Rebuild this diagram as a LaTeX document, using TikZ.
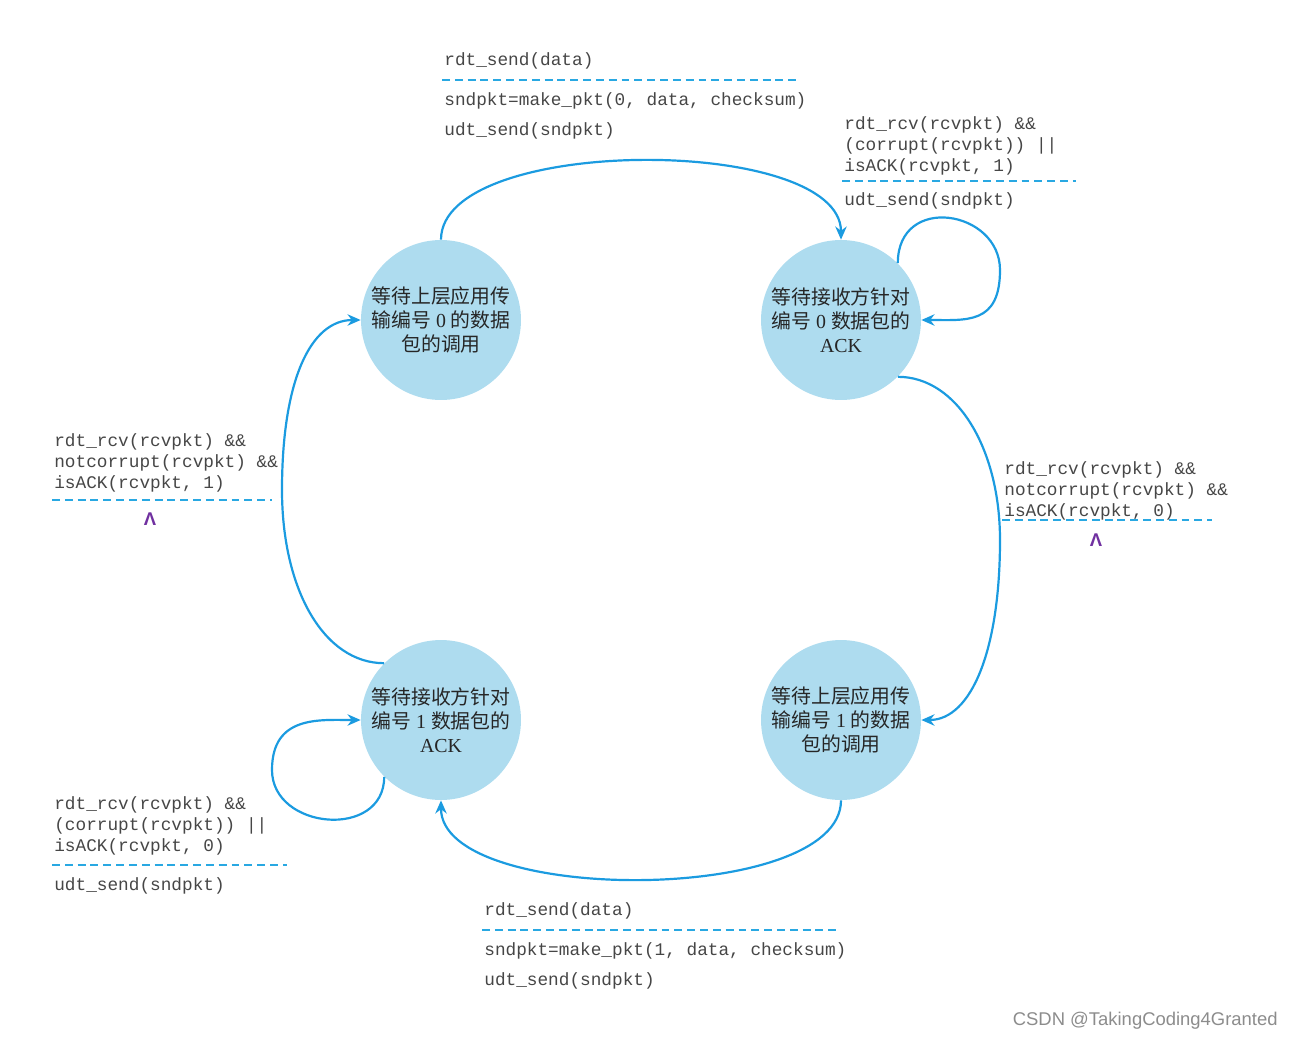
\documentclass[tikz,border=0pt]{standalone}
\usepackage{fontspec}
\setmainfont{Liberation Serif}
\setmonofont{Liberation Mono}
\newfontfamily\cjk{Noto Sans CJK SC}
\newfontfamily\wmfont{Liberation Sans}
\usetikzlibrary{arrows.meta}
\definecolor{statefill}{RGB}{174,220,239}
\definecolor{edgeblue}{RGB}{27,155,224}
\definecolor{dashblue}{RGB}{41,168,226}
\definecolor{lambdapurple}{RGB}{112,48,160}
\definecolor{codegray}{RGB}{70,70,70}
\tikzset{
  state/.style={circle, fill=statefill, minimum size=3.2cm, inner sep=0pt, align=center,
    font=\fontsize{11.3}{13.6}\selectfont, text=black!85},
  trans/.style={draw=edgeblue, line width=1.25pt, -{Stealth[length=7.5pt,width=6.5pt]}},
  sepline/.style={draw=dashblue, line width=1.1pt, dash pattern=on 4.5pt off 2.8pt},
  code/.style={font=\ttfamily\fontsize{10.1}{12}\selectfont, text=codegray, inner sep=0pt, anchor=base west},
  lam/.style={font=\wmfont\bfseries\fontsize{10.5}{12}\selectfont, text=lambdapurple, inner sep=0pt},
}
\begin{document}
\begin{tikzpicture}[x=0.02cm, y=-0.02cm]
\useasboundingbox (0,0) rectangle (1292,1041);

% states
\node[state] (wait0) at (441,320) {{\cjk 等待上层应用传}\\{\cjk 输编号} 0 {\cjk 的数据}\\{\cjk 包的调用}};
\node[state] (ack0) at (841,320) {{\cjk 等待接收方针对}\\{\cjk 编号} 0 {\cjk 数据包的}\\ACK};
\node[state] (ack1) at (441,720) {{\cjk 等待接收方针对}\\{\cjk 编号} 1 {\cjk 数据包的}\\ACK};
\node[state] (wait1) at (841,720) {{\cjk 等待上层应用传}\\{\cjk 输编号} 1 {\cjk 的数据}\\{\cjk 包的调用}};

% bends of the loops and side arcs
\coordinate (loop0) at (1000,270);
\coordinate (side0) at (1000,540);
\coordinate (loop1) at (272,770);
\coordinate (side1) at (282,490);

% transitions
\draw[trans] (wait0.north) .. controls +(0,-105) and +(0,-105) .. (ack0.north);
\draw[trans] (ack0.45) .. controls +(0,-70) and +(0,-60) .. (loop0) .. controls +(0,55) and +(45,0) .. (ack0.east);
\draw[trans] (ack0.-45) .. controls +(60,0) and +(0,-90) .. (side0) .. controls +(0,110) and +(50,0) .. (wait1.east);
\draw[trans] (wait1.south) .. controls +(0,105) and +(0,105) .. (ack1.south);
\draw[trans] (ack1.225) .. controls +(0,63) and +(0,60) .. (loop1) .. controls +(0,-55) and +(-41,0) .. (ack1.west);
\draw[trans] (ack1.135) .. controls +(-60,0) and +(0,100) .. (side1) .. controls +(0,-110) and +(-50,0) .. (wait0.west);

% wait0 -> ack0
\node[code] (snd0ev) at (444,65) {rdt\_send(data)};
\draw[sepline] (442,80) -- (797,80);
\node[code] (snd0a) at (444,105) {sndpkt=make\_pkt(0, data, checksum)};
\node[code] (snd0b) at (444,135) {udt\_send(sndpkt)};

% ack0 self loop
\node[code] (re0a) at (844,129) {rdt\_rcv(rcvpkt) \&\&};
\node[code] (re0b) at (844,150) {(corrupt(rcvpkt)) ||};
\node[code] (re0c) at (844,171) {isACK(rcvpkt, 1)};
\draw[sepline] (842,181) -- (1076,181);
\node[code] (re0d) at (844,205) {udt\_send(sndpkt)};

% ack0 -> wait1
\node[code] (ok0a) at (1004,474) {rdt\_rcv(rcvpkt) \&\&};
\node[code] (ok0b) at (1004,495) {notcorrupt(rcvpkt) \&\&};
\node[code] (ok0c) at (1004,516) {isACK(rcvpkt, 0)};
\draw[sepline] (1002,520) -- (1212,520);
\node[lam] (ok0d) at (1096,540) {Λ};

% wait1 -> ack1
\node[code] (snd1ev) at (484,915) {rdt\_send(data)};
\draw[sepline] (482,930) -- (837,930);
\node[code] (snd1a) at (484,955) {sndpkt=make\_pkt(1, data, checksum)};
\node[code] (snd1b) at (484,985) {udt\_send(sndpkt)};

% ack1 self loop
\node[code] (re1a) at (54,809) {rdt\_rcv(rcvpkt) \&\&};
\node[code] (re1b) at (54,830) {(corrupt(rcvpkt)) ||};
\node[code] (re1c) at (54,851) {isACK(rcvpkt, 0)};
\draw[sepline] (52,865) -- (287,865);
\node[code] (re1d) at (54,890) {udt\_send(sndpkt)};

% ack1 -> wait0
\node[code] (ok1a) at (54,446) {rdt\_rcv(rcvpkt) \&\&};
\node[code] (ok1b) at (54,467) {notcorrupt(rcvpkt) \&\&};
\node[code] (ok1c) at (54,488) {isACK(rcvpkt, 1)};
\draw[sepline] (52,500) -- (272,500);
\node[lam] (ok1d) at (150,519) {Λ};

\node[font=\wmfont\fontsize{10.5}{12}\selectfont, text=black!45, anchor=east, inner sep=0pt] (mark) at (1278,1021) {CSDN @TakingCoding4Granted};
\end{tikzpicture}
\end{document}
